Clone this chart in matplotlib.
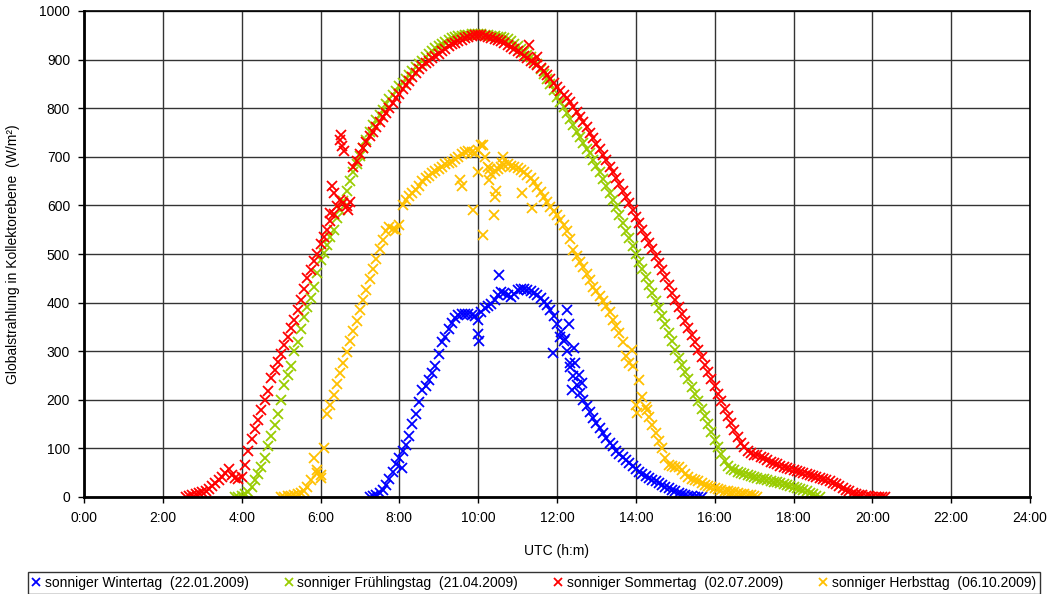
import numpy as np
import matplotlib
matplotlib.use("Agg")
import matplotlib.pyplot as plt

plt.rcParams['font.family'] = ['Liberation Sans', 'DejaVu Sans']

# values every 5 minutes, starting at the given time (W/m2)
winter_start = "7:15"
winter_vals = [0, 2, 4, 8, 15, 25, 38, 52, 68, 80, 95, 108, 125, 150, 170, 195, 220, 228,
               240, 255, 270, 295, 318, 330, 345, 358, 368, 374, 376, 377, 376, 374, 372,
               365, 380, 388, 392, 398, 405, 415, 422, 420, 415, 412, 418, 425, 428, 428,
               426, 424, 420, 416, 410, 402, 395, 385, 372, 355, 330, 320, 300, 275, 250,
               230, 215, 200, 188, 175, 162, 152, 142, 132, 122, 112, 104, 95, 88, 82, 76,
               70, 63, 57, 52, 48, 44, 40, 36, 32, 28, 24, 21, 18, 15, 12, 9, 7, 5, 3, 2,
               1, 0, 0]
winter_out_t = [8.06, 10.0, 10.03, 10.52, 11.9, 12.1, 12.25, 12.3, 12.2, 12.33, 12.38,
                12.43, 12.55, 12.63, 12.45]
winter_out_v = [59, 335, 320, 457, 297, 340, 385, 355, 325, 268, 220, 306, 251, 234, 275]

spring_start = "3:50"
spring_vals = [0, 1, 3, 6, 10, 20, 35, 48, 62, 80, 105, 125, 148, 170, 200, 230, 252, 270,
               300, 318, 345, 370, 390, 410, 432, 460, 488, 502, 518, 535, 550, 575, 590,
               610, 630, 650, 668, 685, 702, 718, 735, 752, 765, 775, 786, 797, 808, 818,
               827, 836, 845, 852, 860, 868, 876, 884, 891, 898, 905, 912, 918, 923, 928,
               933, 937, 941, 944, 946, 948, 949, 950, 951, 952, 953, 953, 952, 951, 950,
               949, 948, 947, 946, 945, 942, 938, 933, 927, 921, 915, 910, 905, 899, 890,
               880, 870, 860, 850, 837, 824, 813, 802, 790, 778, 765, 752, 740, 728, 716,
               707, 694, 681, 668, 654, 640, 626, 611, 596, 580, 564, 548, 532, 516, 500,
               484, 469, 452, 436, 420, 404, 388, 372, 355, 338, 320, 302, 287, 272, 257,
               242, 227, 212, 197, 181, 166, 150, 134, 118, 102, 88, 75, 64, 58, 55, 52,
               49, 47, 45, 43, 41, 40, 38, 37, 35, 33, 31, 30, 28, 26, 24, 23, 21, 19, 17,
               15, 12, 9, 6, 3, 1]

summer_start = "2:35"
summer_vals = [0, 2, 4, 6, 8, 10, 13, 17, 22, 28, 34, 42, 50, 57, 46, 40, 38, 42, 65, 95,
               120, 140, 158, 178, 200, 218, 245, 262, 278, 295, 312, 330, 348, 365, 385,
               405, 428, 450, 468, 485, 500, 520, 535, 550, 568, 582, 598, 612, 604, 598,
               608, 680, 692, 705, 718, 730, 742, 752, 762, 772, 782, 790, 800, 810, 820,
               830, 840, 848, 856, 865, 872, 880, 886, 893, 898, 903, 908, 912, 918, 922,
               928, 932, 935, 938, 941, 944, 946, 948, 950, 951, 950, 948, 946, 944, 942,
               941, 938, 934, 930, 926, 922, 918, 914, 908, 903, 898, 893, 888, 882, 876,
               868, 860, 852, 844, 836, 828, 820, 812, 802, 792, 782, 772, 762, 750, 738,
               727, 716, 704, 693, 680, 668, 656, 644, 630, 617, 604, 590, 577, 563, 549,
               535, 522, 510, 496, 482, 468, 452, 437, 420, 405, 390, 376, 362, 348, 334,
               318, 302, 288, 272, 258, 242, 228, 212, 198, 182, 167, 152, 138, 124, 112,
               102, 95, 90, 86, 86, 82, 80, 76, 72, 70, 67, 64, 62, 60, 58, 56, 54, 52, 50,
               48, 46, 44, 42, 40, 37, 35, 32, 29, 26, 23, 19, 15, 12, 9, 7, 5, 4, 3, 2, 1,
               1, 0, 0, 0]
summer_out_t = [6.24, 6.30, 6.33, 6.50, 6.52, 6.55, 6.60, 6.70, 11.30, 11.50]
summer_out_v = [585, 640, 625, 735, 745, 722, 712, 590, 930, 905]

autumn_start = "5:00"
autumn_vals = [0, 1, 2, 3, 4, 6, 8, 12, 20, 35, 80, 55, 45, 100, 170, 190, 210, 232, 255,
               275, 298, 320, 342, 362, 385, 405, 425, 448, 470, 490, 510, 528, 548, 556,
               552, 550, 560, 600, 612, 620, 625, 632, 640, 650, 656, 660, 666, 670, 675,
               678, 685, 688, 690, 695, 700, 705, 710, 712, 710, 708, 715, 725, 700, 680,
               665, 670, 675, 680, 683, 685, 682, 680, 676, 672, 668, 662, 656, 648, 638,
               628, 618, 607, 596, 588, 580, 570, 560, 548, 530, 508, 495, 484, 474, 458,
               446, 433, 424, 414, 404, 392, 380, 364, 352, 338, 318, 290, 275, 270, 190,
               240, 205, 185, 165, 148, 132, 115, 100, 80, 66, 64, 62, 62, 55, 48, 42, 38,
               35, 32, 28, 25, 22, 20, 18, 17, 15, 13, 12, 11, 10, 8, 7, 6, 5, 4, 2, 0]
autumn_out_t = [5.9, 6.0, 9.54, 9.6, 9.88, 10.0, 10.13, 10.13, 10.27, 10.3, 10.39, 10.43,
                10.45, 10.6, 10.64, 11.1, 11.36, 13.9, 14.02, 14.28]
autumn_out_v = [50, 40, 652, 640, 590, 669, 539, 724, 652, 675, 580, 618, 630, 687, 700,
                625, 594, 302, 172, 179]

labels = ["sonniger Wintertag  (22.01.2009)", "sonniger Frühlingstag  (21.04.2009)",
          "sonniger Sommertag  (02.07.2009)", "sonniger Herbsttag  (06.10.2009)"]
colors = ["#0000FF", "#99CC00", "#FF0000", "#FFC000"]


def to_hours(s):
    h, m = s.split(":")
    return int(h) + int(m) / 60


def series(start, vals, out_t=None, out_v=None):
    t = to_hours(start) + np.arange(len(vals)) * 5 / 60
    v = np.array(vals, dtype=float)
    if out_t:
        t = np.concatenate([t, out_t])
        v = np.concatenate([v, out_v])
    return t, v


data = [
    series(winter_start, winter_vals, winter_out_t, winter_out_v),
    series(spring_start, spring_vals),
    series(summer_start, summer_vals, summer_out_t, summer_out_v),
    series(autumn_start, autumn_vals, autumn_out_t, autumn_out_v),
]

fig = plt.figure(figsize=(10.47, 5.94), dpi=100)
ax = fig.add_axes([84 / 1047, 1 - 497 / 594, 946 / 1047, 486 / 594])

for (t, v), lab, col in zip(data, labels, colors):
    ax.plot(t, v, linestyle='none', marker='x', ms=6.5, mew=1.3, color=col, label=lab)

ax.set_xlim(0, 24)
ax.set_ylim(0, 1000)
ax.set_xticks(range(0, 25, 2))
ax.set_xticklabels([f"{h}:00" for h in range(0, 25, 2)])
ax.set_yticks(range(0, 1001, 100))
ax.grid(True, color='#333333', linewidth=1.0)
ax.set_axisbelow(True)
ax.tick_params(direction='out', length=4, width=1, labelsize=10, pad=6)
for s in ax.spines.values():
    s.set_color('black')
    s.set_linewidth(1.2)
ax.spines['left'].set_linewidth(2)
ax.spines['bottom'].set_linewidth(2)

ax.set_xlabel("UTC (h:m)", fontsize=10, labelpad=14)
ax.set_ylabel("Globalstrahlung in Kollektorebene  (W/m²)", fontsize=10, labelpad=14)

leg = fig.legend(loc='lower left', bbox_to_anchor=(28 / 1047, 0.0, 1012 / 1047, 24 / 594),
                 mode='expand', ncol=4, fontsize=10, frameon=True, fancybox=False,
                 handlelength=0.6, handletextpad=0.3, borderpad=0.3, columnspacing=0.8,
                 borderaxespad=0.0, markerscale=0.8)
leg.get_frame().set_edgecolor('black')
leg.get_frame().set_linewidth(1.0)

fig.savefig("out.png", dpi=100)
